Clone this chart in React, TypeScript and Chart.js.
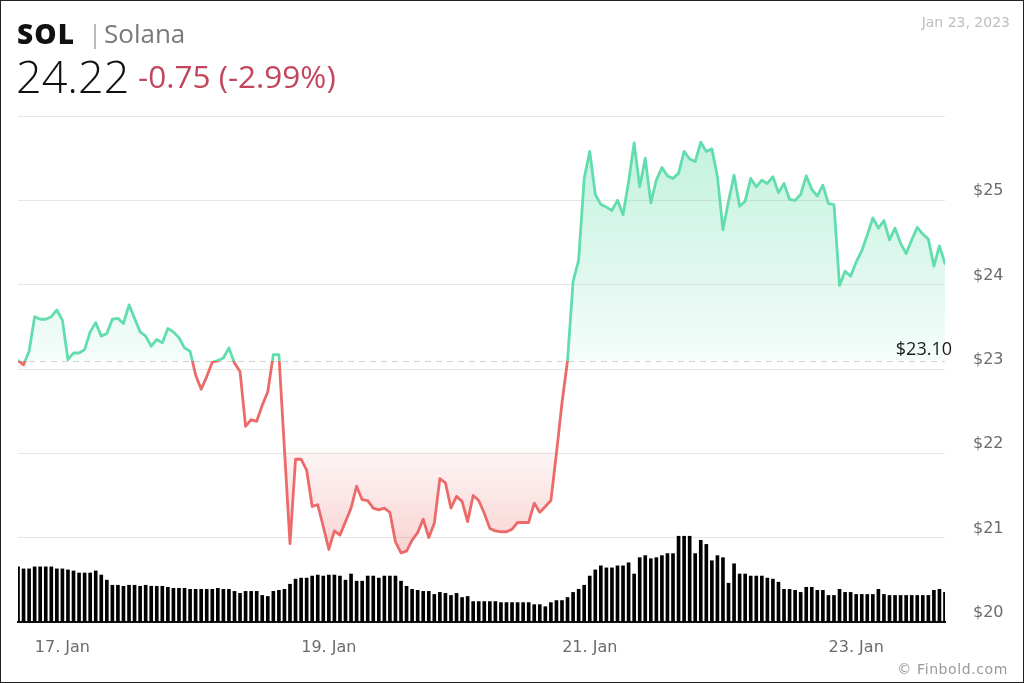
import React, { useEffect, useRef } from 'react';
import { Chart, registerables } from 'chart.js';

Chart.register(...registerables);

// Hourly SOL price, 16 Jan 16:00 → 23 Jan 15:00 (USD)
const prices = [
  23.10, 23.05, 23.21, 23.62, 23.59, 23.59, 23.62, 23.70, 23.58, 23.11,
  23.19, 23.19, 23.23, 23.44, 23.55, 23.39, 23.42, 23.59, 23.60, 23.54,
  23.76, 23.60, 23.44, 23.39, 23.27, 23.35, 23.31, 23.48, 23.44, 23.37,
  23.25, 23.21, 22.93, 22.76, 22.91, 23.08, 23.10, 23.13, 23.25, 23.07,
  22.97, 22.32, 22.40, 22.38, 22.57, 22.73, 23.17, 23.17, 22.05, 20.93,
  21.93, 21.93, 21.80, 21.37, 21.39, 21.13, 20.86, 21.08, 21.03, 21.19,
  21.35, 21.61, 21.45, 21.44, 21.35, 21.33, 21.35, 21.30, 20.95, 20.82,
  20.84, 20.97, 21.06, 21.22, 21.00, 21.17, 21.70, 21.65, 21.35, 21.49,
  21.43, 21.19, 21.50, 21.44, 21.29, 21.11, 21.08, 21.07, 21.07, 21.10,
  21.18, 21.18, 21.18, 21.41, 21.30, 21.37, 21.44, 22.00, 22.60, 23.10,
  24.04, 24.29, 25.26, 25.58, 25.07, 24.95, 24.92, 24.88, 25.00, 24.83,
  25.22, 25.68, 25.16, 25.50, 24.97, 25.24, 25.39, 25.29, 25.26, 25.32,
  25.58, 25.49, 25.46, 25.69, 25.58, 25.61, 25.28, 24.65, 24.99, 25.30,
  24.93, 24.99, 25.26, 25.16, 25.24, 25.20, 25.28, 25.09, 25.20, 25.01,
  25.00, 25.07, 25.29, 25.13, 25.05, 25.18, 24.96, 24.95, 23.99, 24.16,
  24.10, 24.27, 24.40, 24.59, 24.79, 24.67, 24.76, 24.53, 24.67, 24.49,
  24.37, 24.53, 24.68, 24.60, 24.54, 24.22, 24.46, 24.25,
];

// Hourly traded volume (relative units)
const volumes = [
  54, 52, 52, 54, 54, 54, 54, 52, 52, 51,
  50, 48, 48, 48, 50, 46, 41, 36, 36, 35,
  36, 36, 35, 36, 35, 35, 35, 34, 33, 33,
  33, 32, 32, 32, 32, 32, 33, 32, 32, 30,
  28, 30, 30, 30, 26, 25, 30, 31, 32, 37,
  42, 43, 43, 45, 46, 45, 46, 46, 45, 41,
  47, 40, 40, 45, 45, 43, 45, 45, 45, 40,
  35, 32, 31, 30, 30, 27, 29, 28, 26, 28,
  24, 25, 20, 20, 20, 20, 20, 19, 19, 19,
  19, 19, 19, 17, 17, 15, 19, 21, 21, 24,
  29, 32, 36, 45, 51, 55, 53, 53, 55, 55,
  58, 47, 63, 65, 62, 63, 65, 67, 67, 84,
  84, 84, 67, 80, 76, 60, 65, 63, 38, 57,
  47, 47, 45, 45, 45, 43, 42, 39, 32, 32,
  31, 29, 34, 34, 31, 31, 26, 26, 32, 29,
  29, 27, 27, 27, 27, 32, 27, 26, 26, 26,
  26, 26, 26, 26, 26, 31, 32, 29,
];

const xTickPositions = [8, 56, 103, 151];
const xTickLabels = ['17. Jan', '19. Jan', '21. Jan', '23. Jan'];
const yTicks = [20, 21, 22, 23, 24, 25, 26];
const previousClose = 23.1;

const GREEN = 'rgb(98, 221, 174)';
const RED = 'rgb(236, 106, 106)';

const refLinePlugin = {
  id: 'refLine',
  beforeDatasetsDraw(chart: any) {
    const { ctx, chartArea, scales } = chart;
    const y = Math.round(scales.y.getPixelForValue(previousClose)) + 0.5;
    ctx.save();
    ctx.strokeStyle = '#d2d2d2';
    ctx.lineWidth = 1;
    ctx.setLineDash([6, 5]);
    ctx.beginPath();
    ctx.moveTo(chartArea.left, y);
    ctx.lineTo(chartArea.right, y);
    ctx.stroke();
    ctx.restore();
  },
  afterDatasetsDraw(chart: any) {
    const { ctx, chartArea, scales } = chart;
    const y = scales.y.getPixelForValue(previousClose);
    ctx.save();
    ctx.fillStyle = '#1a1a1a';
    ctx.font = '18px "Open Sans"';
    ctx.textAlign = 'right';
    ctx.textBaseline = 'alphabetic';
    ctx.fillText('$' + previousClose.toFixed(2), chartArea.right + 7, y - 6);
    ctx.restore();
  },
};

export default function App() {
  const ref = useRef<HTMLCanvasElement>(null);

  useEffect(() => {
    document.body.style.margin = '0';
    const canvas = ref.current;
    if (!canvas) return;
    const maxVol = Math.max(...volumes);

    const chart = new Chart(canvas, {
      type: 'line',
      data: {
        datasets: [
          {
            type: 'line',
            data: prices.map((p, i) => ({ x: i, y: p })),
            yAxisID: 'y',
            borderColor: GREEN,
            borderWidth: 2.8,
            pointRadius: 0,
            tension: 0,
            fill: false,
            order: 0,
            borderJoinStyle: 'round',
            borderCapStyle: 'round',
          } as any,
          {
            type: 'bar',
            data: volumes.map((v, i) => ({ x: i, y: v })),
            yAxisID: 'yVol',
            backgroundColor: '#000',
            barThickness: 3,
            order: 1,
          } as any,
        ],
      },
      options: {
        responsive: false,
        animation: false,
        devicePixelRatio: 1,
        layout: { padding: { left: 18, top: 116, right: 0, bottom: 0 } },
        plugins: { legend: { display: false }, tooltip: { enabled: false } },
        scales: {
          x: {
            type: 'linear',
            offset: false,
            min: 0,
            max: prices.length - 1,
            grid: { display: false, drawTicks: false, offset: false },
            border: { display: true, color: '#111', width: 2 },
            afterBuildTicks: (axis: any) => {
              axis.ticks = xTickPositions.map((v) => ({ value: v }));
            },
            afterFit: (axis: any) => {
              axis.height = 61;
            },
            ticks: {
              autoSkip: false,
              maxRotation: 0,
              padding: 16,
              color: '#6b6b6b',
              font: { family: '"DejaVu Sans"', size: 16 },
              callback: (value: any) => {
                const k = xTickPositions.indexOf(Number(value));
                return k >= 0 ? xTickLabels[k] : '';
              },
            },
          },
          y: {
            type: 'linear',
            position: 'right',
            min: 20,
            max: 26,
            afterBuildTicks: (axis: any) => {
              axis.ticks = yTicks.map((v) => ({ value: v }));
            },
            afterFit: (axis: any) => {
              axis.width = 79;
            },
            grid: { color: '#e6e6e6', drawTicks: false, lineWidth: 1 },
            border: { display: false },
            ticks: {
              padding: 28,
              labelOffset: -9,
              color: '#6b6b6b',
              font: { family: '"DejaVu Sans"', size: 16 },
              callback: (value: any) => (Number(value) === 26 ? '' : '$' + value),
            },
          },
          yVol: {
            type: 'linear',
            position: 'left',
            display: false,
            min: 0,
            max: maxVol * 5.9,
            grid: { display: false },
          },
        },
      } as any,
      plugins: [refLinePlugin],
    });

    const { chartArea, scales, ctx } = chart as any;
    const yBase = scales.y.getPixelForValue(previousClose);
    const frac = (yBase - chartArea.top) / (chartArea.bottom - chartArea.top);

    const lineGrad = ctx.createLinearGradient(0, chartArea.top, 0, chartArea.bottom);
    lineGrad.addColorStop(0, GREEN);
    lineGrad.addColorStop(frac, GREEN);
    lineGrad.addColorStop(Math.min(1, frac + 0.0001), RED);
    lineGrad.addColorStop(1, RED);

    const greenFill = ctx.createLinearGradient(0, chartArea.top, 0, yBase);
    greenFill.addColorStop(0, 'rgba(98, 221, 174, 0.42)');
    greenFill.addColorStop(1, 'rgba(98, 221, 174, 0.07)');

    const y22 = scales.y.getPixelForValue(22.0);
    const yLow = scales.y.getPixelForValue(20.8);
    const redFill = ctx.createLinearGradient(0, yBase, 0, yLow);
    const f22 = (y22 - yBase) / (yLow - yBase);
    redFill.addColorStop(0, 'rgba(236, 106, 106, 0)');
    redFill.addColorStop(Math.max(0, f22 - 0.02), 'rgba(236, 106, 106, 0)');
    redFill.addColorStop(f22, 'rgba(236, 106, 106, 0.07)');
    redFill.addColorStop(1, 'rgba(236, 106, 106, 0.30)');

    const ds: any = chart.data.datasets[0];
    ds.borderColor = lineGrad;
    ds.fill = { target: { value: previousClose }, above: greenFill, below: redFill };
    chart.update();

    return () => chart.destroy();
  }, []);

  return (
    <div style={{ position: 'relative', width: 1024, height: 683, background: '#fff', overflow: 'hidden' }}>
      <canvas ref={ref} width={1024} height={683} style={{ position: 'absolute', left: 0, top: 0, width: 1024, height: 683 }} />
      <div style={{ position: 'absolute', left: 17, top: 18.5, fontFamily: '"Open Sans"', fontWeight: 800, fontSize: 28, lineHeight: 1, color: '#111', letterSpacing: 1.2, whiteSpace: 'nowrap' }}>SOL</div>
      <div style={{ position: 'absolute', left: 88, top: 19.6, fontFamily: '"Open Sans"', fontWeight: 300, fontSize: 26, lineHeight: 1, color: '#888', whiteSpace: 'nowrap' }}>|</div>
      <div style={{ position: 'absolute', left: 104, top: 19.6, fontFamily: '"Open Sans"', fontWeight: 400, fontSize: 26, lineHeight: 1, color: '#7a7a7a', whiteSpace: 'nowrap' }}>Solana</div>
      <div style={{ position: 'absolute', left: 16, top: 52.9, fontFamily: '"Open Sans"', fontWeight: 300, fontSize: 45, lineHeight: 1, color: '#111', whiteSpace: 'nowrap' }}>24.22</div>
      <div style={{ position: 'absolute', left: 138, top: 59.5, fontFamily: '"Open Sans"', fontWeight: 400, fontSize: 31.5, lineHeight: 1, color: '#c3475c', whiteSpace: 'nowrap' }}>-0.75 (-2.99%)</div>
      <div style={{ position: 'absolute', right: 14, top: 15.3, fontFamily: '"DejaVu Sans"', fontSize: 14, lineHeight: 1, color: '#bdbdbd', whiteSpace: 'nowrap' }}>Jan 23, 2023</div>
      <div style={{ position: 'absolute', right: 16, top: 662.3, fontFamily: '"DejaVu Sans"', fontSize: 14, lineHeight: 1, color: '#9a9a9a', letterSpacing: 0.6, whiteSpace: 'nowrap' }}>© Finbold.com</div>
      <div style={{ position: 'absolute', left: 0, top: 0, width: 1024, height: 683, boxSizing: 'border-box', border: '1px solid #222', pointerEvents: 'none' }} />
    </div>
  );
}
